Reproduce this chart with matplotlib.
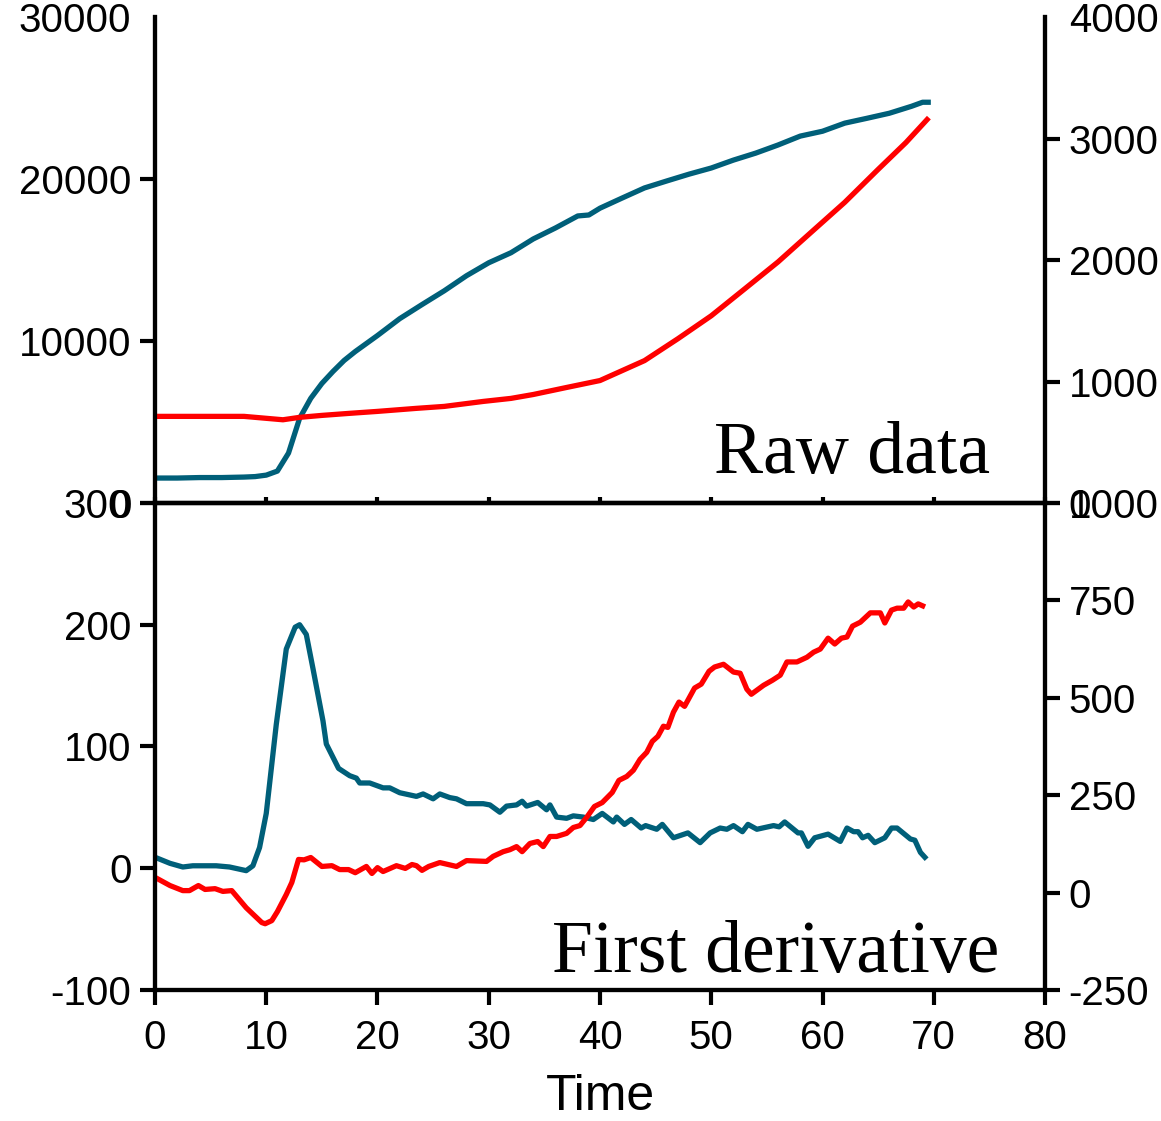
import matplotlib.pyplot as plt
import numpy as np

plt.rcParams["font.family"] = ["Liberation Sans", "DejaVu Sans"]
plt.rcParams["axes.unicode_minus"] = False

TEAL = "#005f79"
RED = "#ff0000"

# raw data, teal trace (left axis, 0-30000)
raw_teal_t = [0, 2, 4, 6, 8, 9, 10, 11, 12, 13, 14, 15, 16, 17, 18, 20, 22, 24,
              26, 28, 30, 32, 34, 36, 38, 39, 40, 42, 44, 46, 48, 50, 52, 54, 56,
              58, 60, 62, 64, 66, 68, 69, 69.5]
raw_teal_v = [1540, 1540, 1570, 1570, 1600, 1630, 1720, 1970, 3080, 5230, 6460,
              7380, 8120, 8800, 9350, 10340, 11380, 12250, 13100, 14030, 14830,
              15450, 16300, 16980, 17720, 17780, 18200, 18830, 19450, 19880, 20300,
              20680, 21170, 21600, 22100, 22650, 22950, 23450, 23750, 24060, 24490,
              24740, 24740]

# raw data, red trace (right axis, 0-4000)
raw_red_t = [0, 4, 8, 10, 11.5, 13, 15, 17.5, 20, 23.5, 26, 29.5, 32, 34, 37, 40,
             41, 44, 47, 50, 53, 56, 59, 62, 65, 67.5, 69.4]
raw_red_v = [713, 713, 713, 697, 685, 705, 721, 738, 754, 779, 795, 836, 861, 893,
             951, 1008, 1049, 1172, 1352, 1541, 1762, 1984, 2230, 2475, 2746, 2967,
             3156]

# first derivative, teal trace (left axis, -100-300)
der_teal_t = [0, 1.35, 2.5, 3.4, 5.5, 6.7, 8.2, 8.8, 9.4, 10, 10.9, 11.8, 12.6, 13,
              13.6, 14.2, 15.1, 15.4, 16.5, 17.5, 18.1, 18.4, 19.3, 20.5, 21.1, 22,
              23.5, 24.1, 25, 25.6, 26.5, 27.1, 28, 29.5, 30.1, 31, 31.6, 32.5, 33,
              33.4, 34.4, 35.2, 35.5, 36.1, 37, 37.6, 38.5, 39.4, 40.2, 41.2, 41.5,
              42.2, 42.8, 43.7, 44.1, 45.1, 45.6, 46.6, 47.9, 49, 49.9, 50.8, 51.4,
              52, 52.8, 53.3, 54.1, 55.6, 56.1, 56.6, 57.8, 58.1, 58.7, 59.3, 60.5,
              61.6, 62.2, 62.8, 63.2, 63.6, 64.1, 64.7, 65.6, 66.2, 66.7, 67.9, 68.3,
              68.8, 69.2]
der_teal_v = [9, 4, 1, 2, 2, 1, -2, 2, 17, 45, 118, 180, 198, 200, 192, 164, 121, 102,
              82, 76, 74, 70, 70, 66, 66, 62, 59, 61, 57, 61, 58, 57, 53, 53, 52, 46,
              51, 52, 55, 51, 54, 48, 52, 42, 41, 43, 42, 40, 45, 38, 42, 36, 40, 33,
              35, 32, 36, 25, 29, 21, 29, 33, 32, 35, 30, 36, 32, 35, 34, 38, 29, 29,
              18, 25, 28, 22, 33, 30, 30, 25, 27, 21, 25, 33, 33, 24, 23, 13, 9]

# first derivative, red trace (right axis, -250-1000)
der_red_t = [0, 1.35, 2.5, 3.1, 3.9, 4.5, 5.4, 6.1, 6.9, 8.2, 9.6, 9.9, 10.5, 11,
             11.8, 12.3, 12.9, 13.4, 14, 15, 15.9, 16.6, 17.4, 18, 19, 19.5, 20,
             20.5, 21.7, 22.5, 23.1, 23.5, 24, 24.6, 25.6, 27.1, 28, 29.8, 30.4, 31.3,
             31.9, 32.5, 33, 33.7, 34.4, 34.9, 35.5, 36.1, 37, 37.6, 38.2, 38.8, 39.5,
             40.2, 41.1, 41.7, 42.4, 43, 43.6, 44.2, 44.7, 45.2, 45.7, 46.1, 46.6,
             47.1, 47.6, 48.5, 49.1, 49.8, 50.3, 51.1, 52, 52.6, 53.2, 53.6, 54.7,
             55.5, 56.2, 56.8, 57.7, 58.6, 59.2, 59.8, 60.5, 61.1, 61.7, 62.2, 62.7,
             63.4, 64.3, 65.2, 65.6, 66.2, 66.7, 67.3, 67.7, 68.2, 68.6, 69]
der_red_v = [39, 18, 5, 5, 18, 8, 10, 3, 5, -39, -77, -80, -72, -49, -5, 26, 85, 84,
             90, 67, 69, 59, 59, 51, 67, 49, 64, 54, 69, 62, 72, 69, 57, 67, 77, 67,
             82, 80, 93, 105, 110, 118, 105, 126, 131, 118, 144, 144, 152, 167, 172,
             193, 221, 231, 257, 288, 298, 314, 342, 360, 388, 401, 427, 424, 463,
             489, 478, 525, 535, 568, 579, 586, 566, 563, 522, 509, 532, 545, 558,
             592, 592, 604, 617, 625, 653, 638, 653, 656, 684, 694, 718, 718, 692,
             725, 730, 730, 746, 733, 741, 736]

x_ticks = [0, 10, 20, 30, 40, 50, 60, 70, 80]

fig = plt.figure(figsize=(11.61, 11.21), dpi=100)
ax_top = fig.add_axes([0.1335, 0.5513, 0.7666, 0.4335])
ax_bot = fig.add_axes([0.1335, 0.1169, 0.7666, 0.4344])
ax_top_r = ax_top.twinx()
ax_bot_r = ax_bot.twinx()

SPINE_W = 3.0
LINE_W = 3.8
FS = 29

for ax in (ax_top, ax_top_r, ax_bot, ax_bot_r):
    ax.set_xlim(0, 80)
    ax.set_xticks(x_ticks)
    for sp in ax.spines.values():
        sp.set_linewidth(SPINE_W)
    ax.tick_params(axis="y", width=SPINE_W, length=11, labelsize=FS, pad=6)
    ax.patch.set_visible(False)

# top panel: open top, x ticks pointing up, no labels
for ax in (ax_top, ax_top_r):
    ax.spines["top"].set_visible(False)
    ax.tick_params(axis="x", direction="in", width=SPINE_W, length=4,
                   labelbottom=False)

ax_top.plot(raw_teal_t, raw_teal_v, color=TEAL, lw=LINE_W)
ax_top.set_ylim(0, 30000)
ax_top.set_yticks([0, 10000, 20000, 30000])

ax_top_r.plot(raw_red_t, raw_red_v, color=RED, lw=LINE_W)
ax_top_r.set_ylim(0, 4000)
ax_top_r.set_yticks([0, 1000, 2000, 3000, 4000])

# the top-most labels carry no tick mark in the original
for ax in (ax_top, ax_top_r):
    top_tick = ax.yaxis.get_major_ticks()[-1]
    top_tick.tick1line.set_visible(False)
    top_tick.tick2line.set_visible(False)

ax_top.text(0.938, 0.062, "Raw data", transform=ax_top.transAxes, ha="right",
            va="baseline", fontsize=53, family=["Liberation Serif", "DejaVu Serif"])

# bottom panel: full box
ax_bot.plot(der_teal_t, der_teal_v, color=TEAL, lw=LINE_W)
ax_bot.set_ylim(-100, 300)
ax_bot.set_yticks([-100, 0, 100, 200, 300])

ax_bot_r.plot(der_red_t, der_red_v, color=RED, lw=LINE_W)
ax_bot_r.set_ylim(-250, 1000)
ax_bot_r.set_yticks([-250, 0, 250, 500, 750, 1000])

for ax in (ax_bot, ax_bot_r):
    ax.tick_params(axis="x", direction="out", width=SPINE_W, length=11,
                   labelsize=FS, pad=10)
ax_bot_r.tick_params(axis="x", labelbottom=False, length=0)
ax_bot.set_xlabel("Time", fontsize=36, labelpad=12)

ax_bot.text(0.949, 0.037, "First derivative", transform=ax_bot.transAxes,
            ha="right", va="baseline", fontsize=53,
            family=["Liberation Serif", "DejaVu Serif"])

fig.savefig("out.png", dpi=100)
